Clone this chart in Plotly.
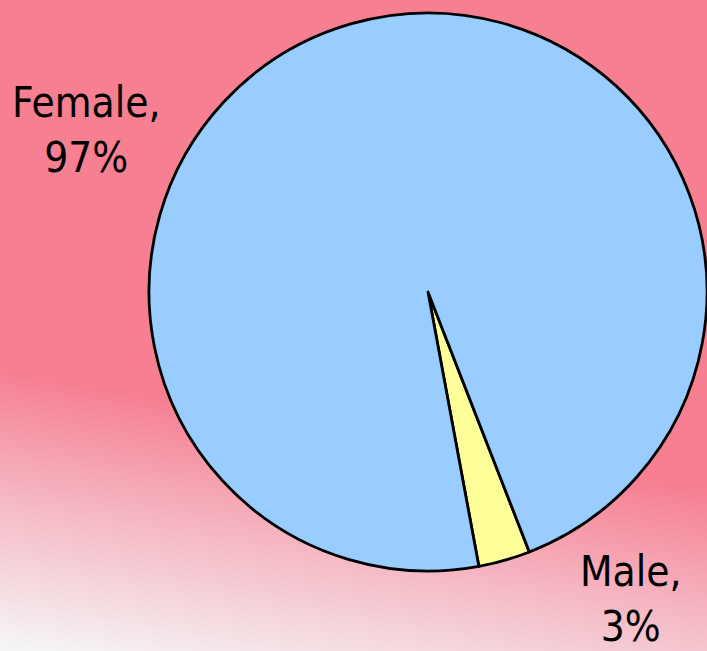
import base64
import plotly.graph_objects as go

# --- data ---
labels = ["Male", "Female"]
values = [3, 97]
slice_colors = ["#FFFF99", "#99CCFF"]

W, H = 707, 651

# --- background gradient (pink fading to white at bottom left) ---
svg_bg = f"""<svg xmlns='http://www.w3.org/2000/svg' width='{W}' height='{H}' viewBox='0 0 {W} {H}' preserveAspectRatio='none'>
<defs><linearGradient id='g' gradientUnits='userSpaceOnUse' x1='350' y1='430' x2='305' y2='695'>
<stop offset='0' stop-color='rgb(246,127,146)'/>
<stop offset='0.45' stop-color='rgb(245,182,194)'/>
<stop offset='1' stop-color='rgb(245,244,245)'/>
</linearGradient></defs>
<rect width='{W}' height='{H}' fill='url(#g)'/></svg>"""
bg_uri = "data:image/svg+xml;base64," + base64.b64encode(svg_bg.encode()).decode()

fig = go.Figure()
fig.add_trace(go.Pie(
    labels=labels, values=values,
    sort=False, direction="clockwise", rotation=158.7,
    marker=dict(colors=slice_colors, line=dict(color="black", width=2.8)),
    textinfo="none", hoverinfo="label+percent",
    showlegend=False,
    domain=dict(x=[149 / W, 1], y=[1 - 571 / H, 1 - 13 / H]),
))

font = dict(family="DejaVu Sans Condensed, DejaVu Sans", size=42, color="black")
fig.add_annotation(text="Female,<br>97%", xref="paper", yref="paper",
                   x=86 / W, y=1 - 130 / H, xanchor="center", yanchor="middle",
                   showarrow=False, font=font)
fig.add_annotation(text="Male,<br>3%", xref="paper", yref="paper",
                   x=631 / W, y=1 - 599 / H, xanchor="center", yanchor="middle",
                   showarrow=False, font=font)

fig.add_layout_image(dict(source=bg_uri, xref="paper", yref="paper", x=0, y=1,
                          sizex=1, sizey=1, sizing="stretch", layer="below",
                          xanchor="left", yanchor="top"))

fig.update_layout(width=W, height=H, margin=dict(l=0, r=0, t=0, b=0),
                  paper_bgcolor="rgb(246,127,146)", plot_bgcolor="rgba(0,0,0,0)")

# page body margin would shift the figure by 8px
fig.write_html("out.html", config={"displayModeBar": False},
               post_script="document.body.style.margin='0';document.body.style.overflow='hidden';")
